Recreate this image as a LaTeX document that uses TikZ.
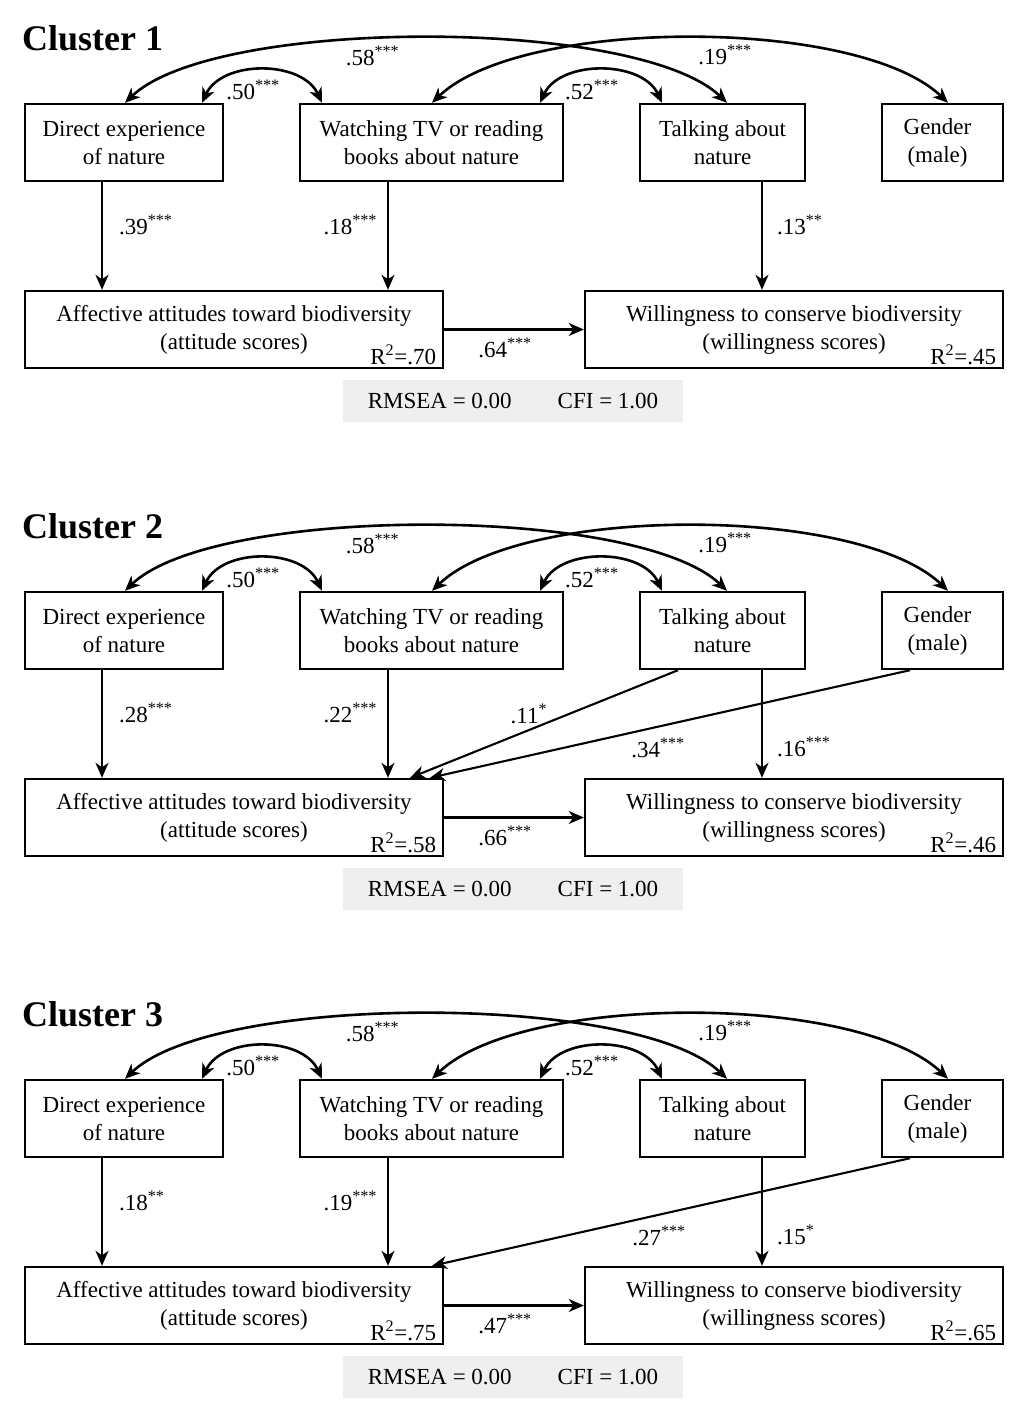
\documentclass[tikz,border=0pt]{standalone}
\usepackage{fontspec}
\setmainfont{Liberation Serif}
\usetikzlibrary{arrows.meta}
\definecolor{boxgray}{HTML}{EFEFEF}
\tikzset{
  box/.style={draw, line width=2.4pt, inner sep=0pt, minimum height=77pt, align=center, font=\fontsize{23}{28}\selectfont},
  title/.style={anchor=base west, inner sep=0pt, font=\fontsize{36}{40}\selectfont\bfseries},
  lbl/.style={inner sep=0pt, font=\fontsize{23}{28}\selectfont},
  rsq/.style={inner sep=0pt, anchor=base east, font=\fontsize{23}{28}\selectfont},
  fitbox/.style={fill=boxgray, inner sep=0pt, minimum width=340pt, minimum height=42pt, font=\fontsize{23}{28}\selectfont},
  arr/.style={line width=2.1pt, -{Stealth[length=15pt,width=13pt,inset=4.5pt]}},
  dbl/.style={line width=2.6pt, {Stealth[length=15pt,width=13pt,inset=4.5pt]}-{Stealth[length=15pt,width=13pt,inset=4.5pt]}},
}
\newcommand{\st}[1]{\textsuperscript{#1}}
\newcommand{\gtext}{\hspace*{-10pt}Gender\\\hspace*{-10pt}(male)}
\begin{document}
\begin{tikzpicture}[x=1pt,y=-1pt]
\useasboundingbox (0,0) rectangle (1024,1411);

% ================= Cluster 1 =================
\node[title] (title1) at (22,50) {Cluster 1};
\node[box, minimum width=198pt] (dir1) at (124,142.5) {Direct experience\\of nature};
\node[box, minimum width=263pt] (tv1) at (431.5,142.5) {Watching TV or reading\\books about nature};
\node[box, minimum width=165pt] (talk1) at (722.5,142.5) {Talking about\\nature};
\node[box, minimum width=121pt] (gen1) at (942.5,142.5) {\gtext};
\node[box, minimum width=418pt] (att1) at (234,329.5) {Affective attitudes toward biodiversity\\(attitude scores)};
\node[box, minimum width=418pt] (will1) at (794,329.5) {Willingness to conserve biodiversity\\(willingness scores)};
\node[rsq] (ra1) at ([xshift=-8pt,yshift=5pt]att1.south east) {R\st{2}=.70};
\node[rsq] (rw1) at ([xshift=-8pt,yshift=5pt]will1.south east) {R\st{2}=.45};
\node[fitbox] (fit1) at (513,401) {RMSEA = 0.00\hspace{46pt}CFI = 1.00};

\draw[dbl] ([xshift=78pt]dir1.north) .. controls +(20,-43) and +(-20,-43) .. ([xshift=-109.5pt]tv1.north)
  node[lbl,pos=0.44,yshift=-19pt] (c50a) {.50\st{***}};
\draw[dbl] ([xshift=108.5pt]tv1.north) .. controls +(20,-43) and +(-20,-43) .. ([xshift=-60.5pt]talk1.north)
  node[lbl,pos=0.44,yshift=-19pt] (c52a) {.52\st{***}};
\draw[dbl] ([xshift=1pt]dir1.north) .. controls +(90,-86) and +(-90,-86) .. ([xshift=4.5pt]talk1.north)
  node[lbl,pos=0.43,yshift=-16pt] (c58a) {.58\st{***}};
\draw[dbl] ([xshift=0.5pt]tv1.north) .. controls +(90,-86) and +(-90,-86) .. ([xshift=5.5pt]gen1.north)
  node[lbl,pos=0.555,yshift=-16pt] (c19a) {.19\st{***}};

\coordinate (ds1) at ([xshift=-22pt]dir1.south);
\coordinate (ts1) at ([xshift=-43.5pt]tv1.south);
\coordinate (ks1) at ([xshift=39.5pt]talk1.south);
\draw[arr] (ds1) -- (ds1 |- att1.north) node[lbl,pos=0.4,anchor=west,xshift=16pt] (p39) {.39\st{***}};
\draw[arr] (ts1) -- (ts1 |- att1.north) node[lbl,pos=0.4,anchor=east,xshift=-10pt] (p18) {.18\st{***}};
\draw[arr] (ks1) -- (ks1 |- will1.north) node[lbl,pos=0.4,anchor=west,xshift=14pt] (p13) {.13\st{**}};
\draw[arr] (att1.east) -- (will1.west) node[lbl,midway,anchor=north,yshift=-7pt,xshift=-9pt] (p64) {.64\st{***}};

% ================= Cluster 2 =================
\begin{scope}[yshift=-488pt]
\node[title] (title2) at (22,50) {Cluster 2};
\node[box, minimum width=198pt] (dir2) at (124,142.5) {Direct experience\\of nature};
\node[box, minimum width=263pt] (tv2) at (431.5,142.5) {Watching TV or reading\\books about nature};
\node[box, minimum width=165pt] (talk2) at (722.5,142.5) {Talking about\\nature};
\node[box, minimum width=121pt] (gen2) at (942.5,142.5) {\gtext};
\node[box, minimum width=418pt] (att2) at (234,329.5) {Affective attitudes toward biodiversity\\(attitude scores)};
\node[box, minimum width=418pt] (will2) at (794,329.5) {Willingness to conserve biodiversity\\(willingness scores)};
\node[rsq] (ra2) at ([xshift=-8pt,yshift=5pt]att2.south east) {R\st{2}=.58};
\node[rsq] (rw2) at ([xshift=-8pt,yshift=5pt]will2.south east) {R\st{2}=.46};
\node[fitbox] (fit2) at (513,401) {RMSEA = 0.00\hspace{46pt}CFI = 1.00};

\draw[dbl] ([xshift=78pt]dir2.north) .. controls +(20,-43) and +(-20,-43) .. ([xshift=-109.5pt]tv2.north)
  node[lbl,pos=0.44,yshift=-19pt] (c50b) {.50\st{***}};
\draw[dbl] ([xshift=108.5pt]tv2.north) .. controls +(20,-43) and +(-20,-43) .. ([xshift=-60.5pt]talk2.north)
  node[lbl,pos=0.44,yshift=-19pt] (c52b) {.52\st{***}};
\draw[dbl] ([xshift=1pt]dir2.north) .. controls +(90,-86) and +(-90,-86) .. ([xshift=4.5pt]talk2.north)
  node[lbl,pos=0.43,yshift=-16pt] (c58b) {.58\st{***}};
\draw[dbl] ([xshift=0.5pt]tv2.north) .. controls +(90,-86) and +(-90,-86) .. ([xshift=5.5pt]gen2.north)
  node[lbl,pos=0.555,yshift=-16pt] (c19b) {.19\st{***}};

\coordinate (ds2) at ([xshift=-22pt]dir2.south);
\coordinate (ts2) at ([xshift=-43.5pt]tv2.south);
\coordinate (ks2) at ([xshift=39.5pt]talk2.south);
\coordinate (kd2) at ([xshift=-44.5pt]talk2.south);
\coordinate (gd2) at ([xshift=-32.5pt]gen2.south);
\draw[arr] (ds2) -- (ds2 |- att2.north) node[lbl,pos=0.4,anchor=west,xshift=16pt] (p28) {.28\st{***}};
\draw[arr] (ts2) -- (ts2 |- att2.north) node[lbl,pos=0.4,anchor=east,xshift=-10pt] (p22) {.22\st{***}};
\draw[arr] (ks2) -- (ks2 |- will2.north) node[lbl,pos=0.71,anchor=west,xshift=14pt] (p16) {.16\st{***}};
\draw[arr] (kd2) -- ([xshift=176pt]att2.north) node[lbl,pos=0.41,anchor=east,xshift=-20pt] (p11) {.11\st{*}};
\draw[arr] (gd2) -- ([xshift=196pt]att2.north) node[lbl,pos=0.525,yshift=-21pt] (p34) {.34\st{***}};
\draw[arr] (att2.east) -- (will2.west) node[lbl,midway,anchor=north,yshift=-7pt,xshift=-9pt] (p66) {.66\st{***}};
\end{scope}

% ================= Cluster 3 =================
\begin{scope}[yshift=-976pt]
\node[title] (title3) at (22,50) {Cluster 3};
\node[box, minimum width=198pt] (dir3) at (124,142.5) {Direct experience\\of nature};
\node[box, minimum width=263pt] (tv3) at (431.5,142.5) {Watching TV or reading\\books about nature};
\node[box, minimum width=165pt] (talk3) at (722.5,142.5) {Talking about\\nature};
\node[box, minimum width=121pt] (gen3) at (942.5,142.5) {\gtext};
\node[box, minimum width=418pt] (att3) at (234,329.5) {Affective attitudes toward biodiversity\\(attitude scores)};
\node[box, minimum width=418pt] (will3) at (794,329.5) {Willingness to conserve biodiversity\\(willingness scores)};
\node[rsq] (ra3) at ([xshift=-8pt,yshift=5pt]att3.south east) {R\st{2}=.75};
\node[rsq] (rw3) at ([xshift=-8pt,yshift=5pt]will3.south east) {R\st{2}=.65};
\node[fitbox] (fit3) at (513,401) {RMSEA = 0.00\hspace{46pt}CFI = 1.00};

\draw[dbl] ([xshift=78pt]dir3.north) .. controls +(20,-43) and +(-20,-43) .. ([xshift=-109.5pt]tv3.north)
  node[lbl,pos=0.44,yshift=-19pt] (c50c) {.50\st{***}};
\draw[dbl] ([xshift=108.5pt]tv3.north) .. controls +(20,-43) and +(-20,-43) .. ([xshift=-60.5pt]talk3.north)
  node[lbl,pos=0.44,yshift=-19pt] (c52c) {.52\st{***}};
\draw[dbl] ([xshift=1pt]dir3.north) .. controls +(90,-86) and +(-90,-86) .. ([xshift=4.5pt]talk3.north)
  node[lbl,pos=0.43,yshift=-16pt] (c58c) {.58\st{***}};
\draw[dbl] ([xshift=0.5pt]tv3.north) .. controls +(90,-86) and +(-90,-86) .. ([xshift=5.5pt]gen3.north)
  node[lbl,pos=0.555,yshift=-16pt] (c19c) {.19\st{***}};

\coordinate (ds3) at ([xshift=-22pt]dir3.south);
\coordinate (ts3) at ([xshift=-43.5pt]tv3.south);
\coordinate (ks3) at ([xshift=39.5pt]talk3.south);
\coordinate (gd3) at ([xshift=-32.5pt]gen3.south);
\draw[arr] (ds3) -- (ds3 |- att3.north) node[lbl,pos=0.4,anchor=west,xshift=16pt] (q18) {.18\st{**}};
\draw[arr] (ts3) -- (ts3 |- att3.north) node[lbl,pos=0.4,anchor=east,xshift=-10pt] (q19) {.19\st{***}};
\draw[arr] (ks3) -- (ks3 |- will3.north) node[lbl,pos=0.71,anchor=west,xshift=14pt] (q15) {.15\st{*}};
\draw[arr] (gd3) -- ([xshift=198pt]att3.north) node[lbl,pos=0.525,yshift=-21pt] (q27) {.27\st{***}};
\draw[arr] (att3.east) -- (will3.west) node[lbl,midway,anchor=north,yshift=-7pt,xshift=-9pt] (q47) {.47\st{***}};
\end{scope}
\end{tikzpicture}
\end{document}
